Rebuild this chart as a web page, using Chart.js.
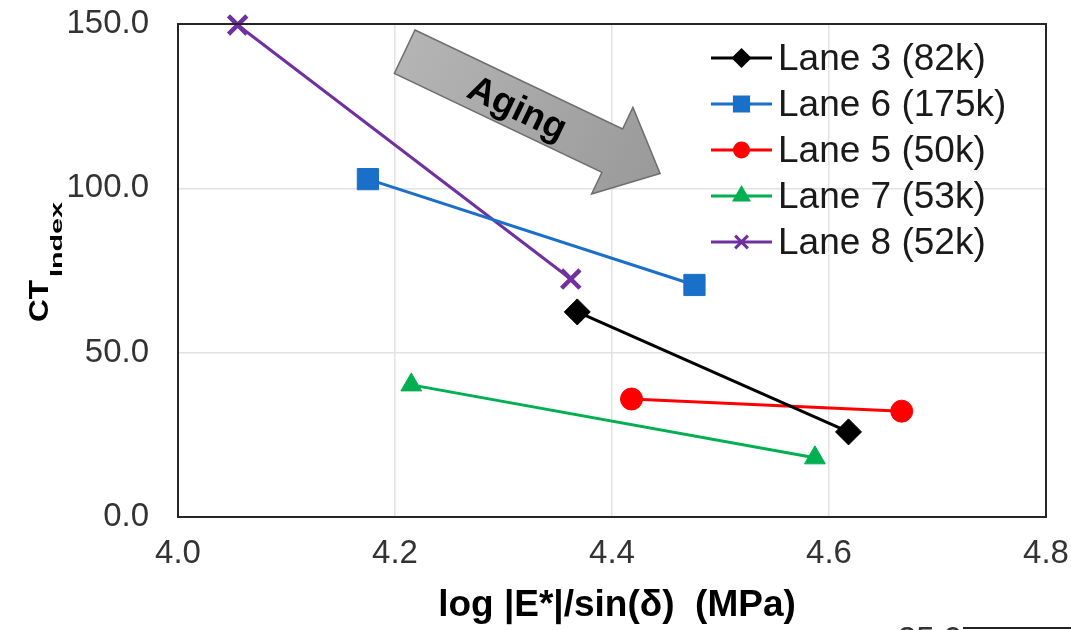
<!DOCTYPE html>
<html>
<head>
<meta charset="utf-8">
<script src="https://cdn.jsdelivr.net/npm/chart.js@4.4.0/dist/chart.umd.min.js"></script>
<style>
html,body{margin:0;padding:0;background:#fff;}
#wrap{width:1071px;height:630px;position:relative;}
</style>
</head>
<body>
<div id="wrap"><canvas id="c" width="1071" height="630"></canvas></div>
<script>
// ---- data ----
const seriesNames = ['Lane 3 (82k)', 'Lane 6 (175k)', 'Lane 5 (50k)', 'Lane 7 (53k)', 'Lane 8 (52k)'];
const lane3X = [4.368, 4.618];  const lane3Y = [62.4, 25.9];
const lane6X = [4.175, 4.476];  const lane6Y = [102.8, 70.6];
const lane5X = [4.418, 4.667];  const lane5Y = [35.9, 32.2];
const lane7X = [4.215, 4.587];  const lane7Y = [40.2, 18.0];
const lane8X = [4.055, 4.362];  const lane8Y = [149.7, 72.4];
const xTicks = [4.0, 4.2, 4.4, 4.6, 4.8];
const yTicks = [0, 50, 100, 150];

const colors = ['#000000', '#1a6fc9', '#ff0000', '#00b050', '#7030a0'];
const styles = ['rectRot', 'rect', 'circle', 'triangle', 'crossRot'];
const radii = [13, 15, 11, 12, 13];
const legendRadii = [8, 10, 7, 8, 9];

function pts(xs, ys){ return xs.map((x,i)=>({x:x, y:ys[i]})); }
const allX = [lane3X, lane6X, lane5X, lane7X, lane8X];
const allY = [lane3Y, lane6Y, lane5Y, lane7Y, lane8Y];

const datasets = seriesNames.map((n,i)=>({
  label: n,
  data: pts(allX[i], allY[i]),
  showLine: true,
  borderColor: colors[i],
  backgroundColor: colors[i],
  borderWidth: 3,
  pointStyle: styles[i],
  pointRadius: radii[i],
  pointBorderWidth: styles[i]==='crossRot' ? 4.5 : 1,
  pointBorderColor: colors[i],
  pointBackgroundColor: colors[i],
  clip: false
}));

const FONT = '"Liberation Sans", Arial, sans-serif';

function fitText(ctx, txt, x, y, targetW){
  const w = ctx.measureText(txt).width;
  ctx.save();
  ctx.translate(x, y);
  ctx.scale(targetW / w, 1);
  ctx.fillText(txt, 0, 0);
  ctx.restore();
}

const decor = {
  id: 'decor',
  beforeDatasetsDraw(chart){
    const ctx = chart.ctx;
    // Aging arrow
    ctx.save();
    ctx.translate(415, 30);
    ctx.rotate(25.5*Math.PI/180);
    ctx.beginPath();
    ctx.moveTo(0,0); ctx.lineTo(230,0); ctx.lineTo(230,-24); ctx.lineTo(283,24);
    ctx.lineTo(230,72); ctx.lineTo(230,48); ctx.lineTo(0,48); ctx.closePath();
    const g = ctx.createLinearGradient(0,0,280,0);
    g.addColorStop(0,'#b4b4b4'); g.addColorStop(1,'#9a9a9a');
    ctx.fillStyle = g; ctx.fill();
    ctx.strokeStyle = '#6e6e6e'; ctx.lineWidth = 1.5; ctx.stroke();
    ctx.fillStyle = '#000';
    ctx.font = 'bold 37px ' + FONT;
    ctx.textAlign = 'center'; ctx.textBaseline = 'middle';
    ctx.fillText('Aging', 126, 28);
    ctx.restore();
  },
  afterDraw(chart){
    const ctx = chart.ctx;
    const a = chart.chartArea;
    ctx.save();
    // frame
    ctx.strokeStyle = '#262626'; ctx.lineWidth = 2;
    ctx.strokeRect(a.left, a.top, a.right-a.left, a.bottom-a.top);
    // legend
    const lx = 711, lx2 = 772, ty0 = 58, dy = 46;
    ctx.font = '37px ' + FONT;
    ctx.textBaseline = 'middle'; ctx.textAlign = 'left';
    chart.data.datasets.forEach((ds,i)=>{
      const y = ty0 + i*dy;
      ctx.strokeStyle = ds.borderColor; ctx.lineWidth = 3;
      ctx.beginPath(); ctx.moveTo(lx,y); ctx.lineTo(lx2,y); ctx.stroke();
      ctx.fillStyle = ds.backgroundColor; ctx.strokeStyle = ds.borderColor;
      Chart.helpers.drawPoint(ctx, {
        pointStyle: ds.pointStyle, radius: legendRadii[i],
        borderWidth: ds.pointStyle==='crossRot' ? 3.5 : 1, rotation: 0
      }, (lx+lx2)/2, y);
      ctx.fillStyle = '#1a1a1a';
      ctx.fillText(ds.label, 778, y+2);
    });
    // y title with subscript (rotated)
    ctx.save();
    ctx.translate(48, 322);
    ctx.rotate(-Math.PI/2);
    ctx.fillStyle = '#000';
    ctx.textBaseline = 'alphabetic'; ctx.textAlign = 'left';
    ctx.font = 'bold 28px ' + FONT;
    fitText(ctx, 'CT', 0, 0, 42);
    ctx.font = 'bold 17px ' + FONT;
    fitText(ctx, 'Index', 45, 14, 75);
    ctx.restore();
    // x title
    ctx.fillStyle = '#000';
    ctx.font = 'bold 37px ' + FONT;
    ctx.textAlign = 'center'; ctx.textBaseline = 'middle';
    ctx.fillText('log |E*|/sin(\u03b4)  (MPa)', 617, 606);
    // fragment of next chart
    ctx.fillStyle = '#333';
    ctx.font = '33px ' + FONT;
    ctx.textAlign = 'center'; ctx.textBaseline = 'middle';
    ctx.fillText('35.0', 930, 641);
    ctx.strokeStyle = '#222'; ctx.lineWidth = 2;
    ctx.beginPath(); ctx.moveTo(963, 628); ctx.lineTo(1071, 628); ctx.stroke();
    ctx.restore();
  }
};

new Chart(document.getElementById('c'), {
  type: 'scatter',
  data: { datasets },
  options: {
    responsive: false,
    animation: false,
    devicePixelRatio: 1,
    layout: { padding: { left: 0, top: 24, right: 25, bottom: 0 } },
    plugins: { legend: { display: false }, tooltip: { enabled: false } },
    scales: {
      x: {
        type: 'linear', min: 4.0, max: 4.8,
        afterBuildTicks(s){ s.ticks = xTicks.map(v=>({value:v})); },
        afterFit(s){ s.height = 113; s.paddingLeft = 0; s.paddingRight = 0; },
        ticks: { callback: v => v.toFixed(1), font: { size: 33, family: FONT }, color: '#333', padding: 17, maxRotation: 0 },
        grid: { color: '#e2e2e2', lineWidth: 1.5, drawTicks: false },
        border: { display: false }
      },
      y: {
        type: 'linear', min: 0, max: 150,
        afterBuildTicks(s){ s.ticks = yTicks.map(v=>({value:v})); },
        afterFit(s){ s.width = 178; s.paddingTop = 0; s.paddingBottom = 0; },
        ticks: { callback: v => v.toFixed(1), font: { size: 33, family: FONT }, color: '#333', padding: 29 },
        grid: { color: '#e2e2e2', lineWidth: 1.5, drawTicks: false },
        border: { display: false }
      }
    }
  },
  plugins: [decor]
});
</script>
</body>
</html>
